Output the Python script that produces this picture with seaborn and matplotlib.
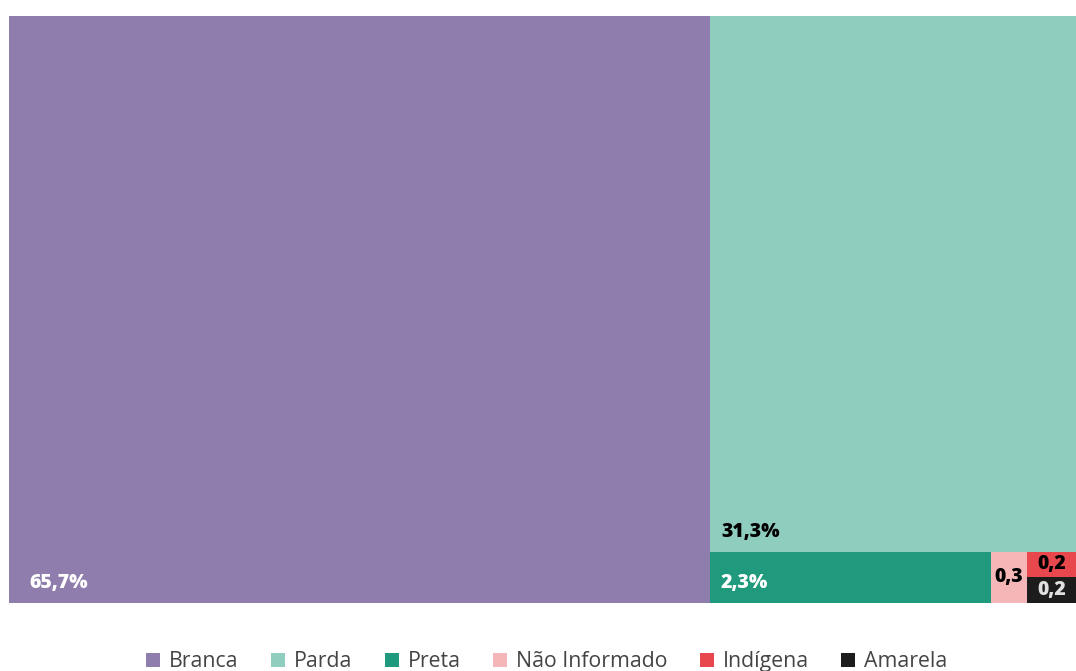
import matplotlib
matplotlib.use("Agg")
import matplotlib.pyplot as plt
import seaborn as sns
from matplotlib.lines import Line2D

categories = ["Branca", "Parda", "Preta", "Não Informado", "Indígena", "Amarela"]
values = [65.7, 31.3, 2.3, 0.3, 0.2, 0.2]
labels = ["65,7%", "31,3%", "2,3%", "0,3", "0,2", "0,2"]
colors = ["#8f7ead", "#8fcdbf", "#1f9a7c", "#f4b6b6", "#e8474e", "#1c1c1c"]
label_colors = ["white", "black", "white", "black", "black", "#e0e0e0"]

sns.set_theme(style="white")
plt.rcParams["font.family"] = ["Open Sans", "DejaVu Sans"]

W, H = 1067.0, 587.0


def worst(row, side):
    s = sum(row)
    return max(max(side * side * r / (s * s), (s * s) / (side * side * r)) for r in row)


def squarify(vals, x, y, w, h):
    total = sum(vals)
    areas = [v * w * h / total for v in vals]
    rects = []
    i = 0
    while i < len(areas):
        side = min(w, h)
        row = [areas[i]]
        j = i + 1
        while j < len(areas) and worst(row + [areas[j]], side) <= worst(row, side):
            row.append(areas[j])
            j += 1
        s = sum(row)
        if w >= h:
            cw = s / h
            cy = y
            for a in row:
                rh = a / cw
                rects.append((x, cy, cw, rh))
                cy += rh
            x += cw
            w -= cw
        else:
            rh = s / w
            cx = x
            for a in row:
                rw = a / rh
                rects.append((cx, y, rw, rh))
                cx += rw
            y += rh
            h -= rh
        i = j
    return rects


rects = squarify(values, 0.0, 0.0, W, H)

fig = plt.figure(figsize=(10.76, 6.71), dpi=100)
ax = fig.add_axes([9 / 1076, 1 - 603 / 671, 1067 / 1076, 587 / 671])
xs = [r[0] for r in rects]
ys = [r[1] for r in rects]
ws = [r[2] for r in rects]
hs = [r[3] for r in rects]
ax.bar(xs, hs, width=ws, bottom=ys, align="edge", color=colors, linewidth=0)
ax.set_xlim(0, W)
ax.set_ylim(H, 0)
ax.axis("off")

for (x, y, w, h), lab, lc in zip(rects, labels, label_colors):
    if w > 100:
        padx = 20 if w > 500 else 11
        ty = y + h - min(20, h / 2)
        ax.text(x + padx, ty, lab, color=lc, fontsize=14, fontweight="heavy",
                ha="left", va="center")
    else:
        ax.text(x + w / 2, y + h / 2, lab, color=lc, fontsize=14, fontweight="heavy",
                ha="center", va="center")

handles = [Line2D([0], [0], marker="s", linestyle="", markersize=9.5,
                  markerfacecolor=c, markeredgewidth=0) for c in colors]
leg = fig.legend(handles, categories, loc="center", bbox_to_anchor=(0.508, 0.014),
                 ncol=6, frameon=False, fontsize=15.3, handlelength=0.7,
                 handletextpad=0.4, columnspacing=1.5)
for t in leg.get_texts():
    t.set_color("#444444")

fig.savefig("out.png", dpi=100)
